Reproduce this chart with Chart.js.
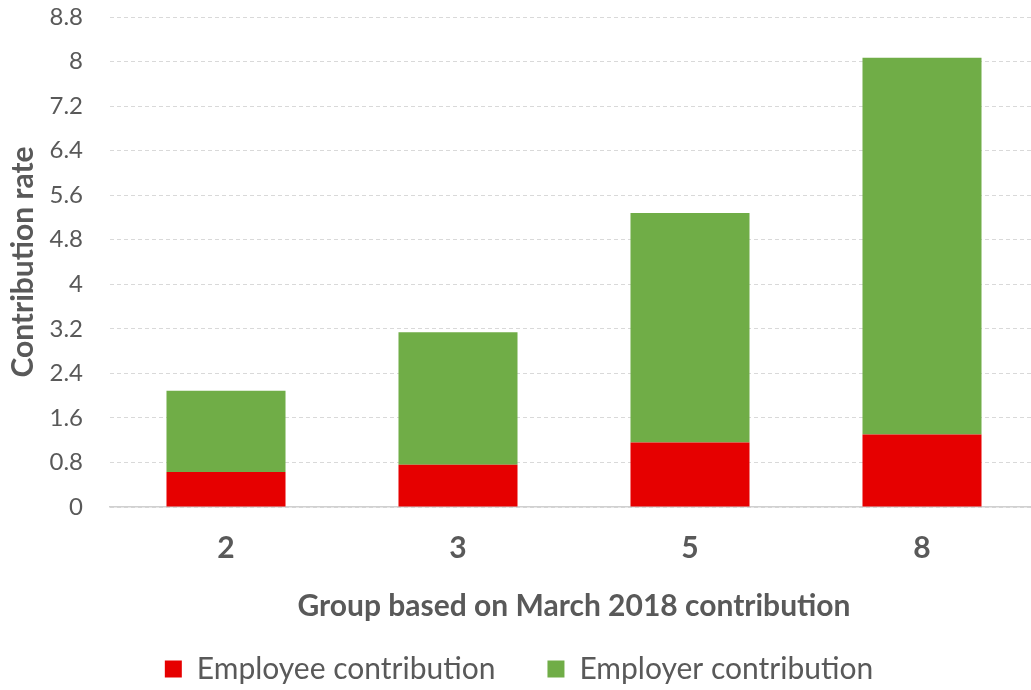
<!DOCTYPE html>
<html>
<head>
<meta charset="utf-8">
<script src="https://cdn.jsdelivr.net/npm/chart.js@4.4.1/dist/chart.umd.min.js"></script>
<style>
  html, body { margin: 0; padding: 0; background: #ffffff; }
  #clip { width: 1031px; height: 690px; overflow: hidden; position: relative; }
  #wrap { width: 1050px; height: 690px; position: absolute; left: 0; top: 0; }
</style>
</head>
<body>
<div id="clip"><div id="wrap"><canvas id="c"></canvas></div></div>
<script>
const categories = ["2", "3", "5", "8"];
const employeeContribution = [0.63, 0.76, 1.16, 1.30];
const employerContribution = [1.46, 2.38, 4.12, 6.77];
const yTicks = [0, 0.8, 1.6, 2.4, 3.2, 4, 4.8, 5.6, 6.4, 7.2, 8, 8.8];
const seriesNames = ["Employee contribution", "Employer contribution"];
const yTitle = "Contribution rate";
const xTitle = "Group based on March 2018 contribution";

const textColor = "#595959";
const fam = "Lato, 'Open Sans', sans-serif";

new Chart(document.getElementById("c"), {
  type: "bar",
  data: {
    labels: categories,
    datasets: [
      { label: seriesNames[0], data: employeeContribution, backgroundColor: "#e60000", borderWidth: 0 },
      { label: seriesNames[1], data: employerContribution, backgroundColor: "#70ad47", borderWidth: 0 }
    ]
  },
  options: {
    responsive: true,
    maintainAspectRatio: false,
    animation: false,
    layout: { padding: { top: 17, left: 0, right: 12, bottom: -4 } },
    datasets: { bar: { categoryPercentage: 1, barPercentage: 0.513 } },
    plugins: {
      tooltip: { enabled: false },
      legend: {
        position: "bottom",
        labels: {
          color: textColor,
          font: { family: fam, size: 30 },
          boxWidth: 17,
          boxHeight: 17,
          padding: 52
        }
      }
    },
    scales: {
      x: {
        stacked: true,
        grid: { display: false, drawTicks: false },
        border: { display: true, color: "#d0d0d0", width: 1.5 },
        ticks: { color: textColor, font: { family: fam, size: 30, weight: "bold" }, padding: 23 },
        title: { display: true, text: xTitle, color: textColor, font: { family: fam, size: 30, weight: "bold" }, padding: { top: 0, bottom: -22 } },
        afterFit: (s) => { s.height = 95; s.paddingLeft = 0; s.paddingRight = 0; }
      },
      y: {
        stacked: true,
        min: 0,
        max: 8.8,
        afterBuildTicks: (s) => { s.ticks = yTicks.map(v => ({ value: v })); },
        grid: { color: "#d9d9d9", lineWidth: 1, drawTicks: false },
        border: { display: false, dash: [4, 3] },
        ticks: { color: textColor, font: { family: fam, size: 24 }, padding: 27,
                 callback: (v) => String(Math.round(v * 10) / 10) },
        title: { display: true, text: yTitle, color: textColor, font: { family: fam, size: 30, weight: "bold" }, padding: { top: 5, bottom: 0 } },
        afterFit: (s) => { s.width = 110; s.paddingTop = 0; s.paddingBottom = 0; }
      }
    }
  }
});
</script>
</body>
</html>
